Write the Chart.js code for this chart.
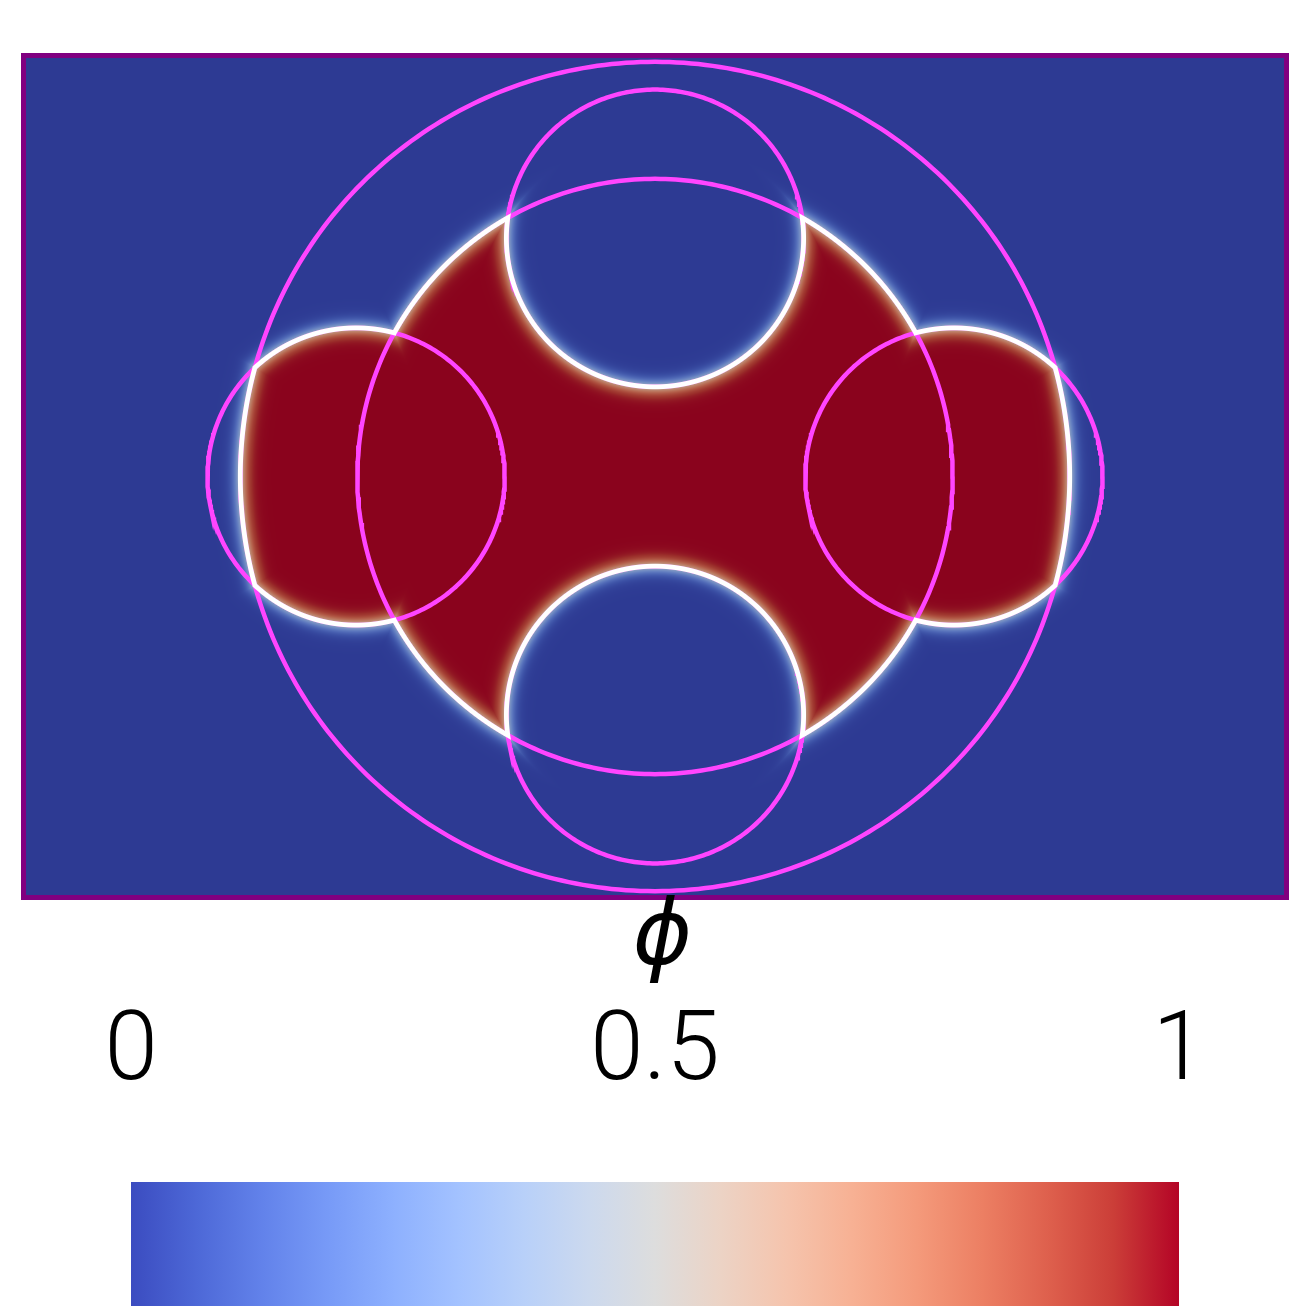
<!DOCTYPE html>
<html>
<head>
<meta charset="utf-8">
<script src="https://cdn.jsdelivr.net/npm/chart.js@4.4.1/dist/chart.umd.min.js"></script>
<style>
  body { margin: 0; background: #fff; }
  #field { position: absolute; left: 0; top: 0; }
  #bar { position: absolute; left: 0; top: 880px; }
</style>
</head>
<body>
<canvas id="field" width="1310" height="910"></canvas>
<canvas id="bar" width="1310" height="430"></canvas>
<script>
// domain of the phase field
const domainX = [-1.5, 1.5];
const domainY = [-1, 1];

// circles: outer, middle, top, bottom, left, right
const circleNames = ['outer', 'middle', 'top', 'bottom', 'left', 'right'];
const circleX = [0, 0, 0, 0, -0.71, 0.71];
const circleY = [0, 0, 0.566, -0.566, 0, 0];
const circleR = [0.985, 0.707, 0.353, 0.353, 0.353, 0.353];

// colour bar
const colorTicks = [0, 0.5, 1];
const colorTickLabels = ['0', '0.5', '1'];
const colorTitle = '\u2006ϕ';

// Cool to Warm colour map
const cmapPos = [0, 0.0625, 0.125, 0.1875, 0.25, 0.3125, 0.375, 0.4375, 0.5,
  0.5625, 0.625, 0.6875, 0.75, 0.8125, 0.875, 0.9375, 1];
const cmapRGB = [[59,76,192],[77,104,215],[98,130,234],[119,154,247],[141,176,254],
  [163,194,255],[184,208,249],[204,217,238],[221,221,221],[236,211,197],[245,196,173],
  [247,177,148],[244,154,123],[236,127,99],[222,96,77],[203,62,56],[180,4,38]];

const MAGENTA = '#ff45ff';
const SHADE = 0.765;     // surface lighting
const EPS = 0.02;        // interface width
const WHITE_W = 4.8;     // contour line width, px

function cmap(t) {
  t = Math.min(1, Math.max(0, t));
  let k = 0;
  while (k < cmapPos.length - 2 && t > cmapPos[k + 1]) k++;
  const f = (t - cmapPos[k]) / (cmapPos[k + 1] - cmapPos[k]);
  const a = cmapRGB[k], b = cmapRGB[k + 1];
  return [a[0] + (b[0] - a[0]) * f, a[1] + (b[1] - a[1]) * f, a[2] + (b[2] - a[2]) * f];
}

function dist(i, px, py) {
  return Math.hypot(px - circleX[i], py - circleY[i]) - circleR[i];
}

// outer ∩ (middle ∪ left ∪ right) minus top and bottom
function signedDist(px, py) {
  const body = Math.min(dist(1, px, py), dist(4, px, py), dist(5, px, py));
  return Math.max(dist(0, px, py), body, -dist(2, px, py), -dist(3, px, py));
}

function circlePoints(i) {
  const pts = [];
  for (let k = 0; k <= 360; k++) {
    const a = k * Math.PI / 180;
    pts.push({ x: circleX[i] + circleR[i] * Math.cos(a), y: circleY[i] + circleR[i] * Math.sin(a) });
  }
  return pts;
}

const fieldPlugin = {
  id: 'phiField',
  beforeDatasetsDraw(chart) {
    const { ctx, chartArea: a, scales: { x, y } } = chart;
    const x0 = Math.floor(a.left), x1 = Math.ceil(a.right);
    const y0 = Math.floor(a.top), y1 = Math.ceil(a.bottom);
    const W = x1 - x0, H = y1 - y0;
    const unit = Math.abs(x.getPixelForValue(1) - x.getPixelForValue(0));
    const xs = [], ys = [];
    for (let i = 0; i < W; i++) xs.push(x.getValueForPixel(x0 + i + 0.5));
    for (let j = 0; j < H; j++) ys.push(y.getValueForPixel(y0 + j + 0.5));

    const img = ctx.createImageData(W, H);
    const line = ctx.createImageData(W, H);
    for (let j = 0; j < H; j++) {
      for (let i = 0; i < W; i++) {
        const d = signedDist(xs[i], ys[j]);
        const phi = 0.5 * (1 - Math.tanh(d / EPS));
        const c = cmap(phi);
        const p = (j * W + i) * 4;
        img.data[p] = c[0] * SHADE;
        img.data[p + 1] = c[1] * SHADE;
        img.data[p + 2] = c[2] * SHADE;
        img.data[p + 3] = 255;
        const cov = Math.min(1, Math.max(0, WHITE_W / 2 + 0.5 - Math.abs(d * unit)));
        line.data[p] = 255; line.data[p + 1] = 255; line.data[p + 2] = 255;
        line.data[p + 3] = cov * 255;
      }
    }
    ctx.putImageData(img, x0, y0);
    const off = document.createElement('canvas');
    off.width = W; off.height = H;
    off.getContext('2d').putImageData(line, 0, 0);
    chart.$contour = { off, x0, y0 };
  },
  afterDatasetsDraw(chart) {
    const c = chart.$contour;
    if (c) chart.ctx.drawImage(c.off, c.x0, c.y0);
  },
  afterDraw(chart) {
    const { ctx, chartArea: a } = chart;
    ctx.save();
    ctx.strokeStyle = '#800080';
    ctx.lineWidth = 5;
    ctx.strokeRect(a.left, a.top, a.right - a.left, a.bottom - a.top);
    ctx.restore();
  }
};

new Chart(document.getElementById('field'), {
  type: 'scatter',
  data: {
    datasets: circleR.map((r, i) => ({
      label: circleNames[i],
      data: circlePoints(i),
      showLine: true,
      borderColor: MAGENTA,
      borderWidth: 4.5,
      pointRadius: 0,
      fill: false
    }))
  },
  options: {
    responsive: false,
    animation: false,
    events: [],
    layout: { padding: { left: 23.5, right: 23.5, top: 55.5, bottom: 12.5 } },
    plugins: { legend: { display: false }, tooltip: { enabled: false } },
    scales: {
      x: { type: 'linear', min: domainX[0], max: domainX[1], display: false },
      y: { type: 'linear', min: domainY[0], max: domainY[1], display: false }
    }
  },
  plugins: [fieldPlugin]
});

const barPlugin = {
  id: 'colorBar',
  beforeDatasetsDraw(chart) {
    const { ctx, chartArea: a, scales: { x } } = chart;
    const g = ctx.createLinearGradient(x.getPixelForValue(0), 0, x.getPixelForValue(1), 0);
    cmapPos.forEach((p, k) => g.addColorStop(p, 'rgb(' + cmapRGB[k].join(',') + ')'));
    ctx.fillStyle = g;
    ctx.fillRect(a.left, a.top, a.right - a.left, a.bottom - a.top);
  }
};

new Chart(document.getElementById('bar'), {
  type: 'scatter',
  data: { datasets: [] },
  options: {
    responsive: false,
    animation: false,
    events: [],
    layout: { padding: { left: 131, right: 131, top: 0, bottom: 4 } },
    plugins: { legend: { display: false }, tooltip: { enabled: false } },
    scales: {
      x: {
        type: 'linear', position: 'top', min: 0, max: 1,
        afterBuildTicks: s => { s.ticks = colorTicks.map(v => ({ value: v })); },
        afterFit: s => { s.height = 302; },
        grid: { display: false, drawTicks: false },
        border: { display: false },
        ticks: {
          color: '#000', padding: 79, maxRotation: 0, autoSkip: false,
          callback: (v) => colorTickLabels[colorTicks.indexOf(v)],
          font: { family: 'Roboto', size: 96, weight: 300, lineHeight: 1 }
        },
        title: {
          display: true, text: colorTitle, color: '#000',
          font: { family: 'DejaVu Sans', style: 'italic', size: 90, lineHeight: 1 },
          padding: { top: 16, bottom: 0 }
        }
      },
      y: { display: false, min: 0, max: 1 }
    }
  },
  plugins: [barPlugin]
});
</script>
</body>
</html>
